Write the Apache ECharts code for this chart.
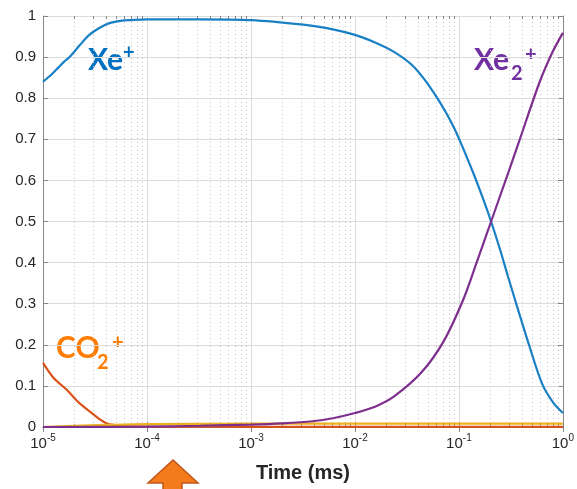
<!DOCTYPE html>
<html><head><meta charset="utf-8">
<script src="https://cdn.jsdelivr.net/npm/echarts@6/dist/echarts.min.js"></script>
<style>html,body{margin:0;padding:0;background:#fff}#c{width:577px;height:489px}</style>
</head><body><div id="c"></div>
<script>
// Time in ms (log axis) and fractions
const xeTime = [1e-5, 1.2e-5, 1.41e-5, 1.6e-5, 1.8e-5, 2.24e-5, 2.79e-5, 3.55e-5, 4.3e-5, 5.6e-5, 7e-5, 1e-4, 3.2e-4, 1e-3, 3.2e-3, 5.2e-3, 0.01, 0.0158, 0.024, 0.037, 0.0575, 0.089, 0.1375, 0.171, 0.204, 0.25, 0.295, 0.366, 0.476, 0.632, 0.804, 1];
const xeVal  = [0.84, 0.857, 0.875, 0.889, 0.9, 0.928, 0.954, 0.972, 0.982, 0.988, 0.99, 0.992, 0.992, 0.99, 0.979, 0.971, 0.954, 0.935, 0.912, 0.876, 0.813, 0.73, 0.618, 0.555, 0.5, 0.43, 0.368, 0.29, 0.197, 0.105, 0.06, 0.034];

const co2Time = [1e-5, 1.26e-5, 1.7e-5, 2.24e-5, 2.95e-5, 3.55e-5, 4.27e-5, 6.3e-5, 1e-4, 1e-3, 1];
const co2Val  = [0.156, 0.12, 0.09, 0.058, 0.034, 0.018, 0.007, 0.002, 0.001, 0.0005, 0.0005];

const yelTime = [1e-5, 2e-5, 4e-5, 1e-4, 1e-3, 1];
const yelVal  = [0.0, 0.003, 0.005, 0.007, 0.008, 0.008];

const xe2Time = [1e-5, 1e-4, 3.2e-4, 1e-3, 2e-3, 3.9e-3, 6.3e-3, 0.01, 0.0158, 0.024, 0.0437, 0.0715, 0.111, 0.148, 0.204, 0.282, 0.383, 0.593, 0.787, 1];
const xe2Val  = [0.0, 0.001, 0.003, 0.006, 0.009, 0.014, 0.022, 0.034, 0.05, 0.075, 0.133, 0.209, 0.312, 0.40, 0.5, 0.601, 0.698, 0.837, 0.91, 0.959];

const yTicks = [0, 0.1, 0.2, 0.3, 0.4, 0.5, 0.6, 0.7, 0.8, 0.9, 1];
const decades = [1e-5, 1e-4, 1e-3, 1e-2, 1e-1];
const minorMult = [2, 3, 4, 5, 6, 7, 8, 9];
const xAxisTitle = 'Time (ms)';

const zip = (a, b) => a.map((t, i) => [t, b[i]]);
const minorTicks = [];
decades.forEach(d => minorMult.forEach(m => minorTicks.push([m * d])));
const axisGray = '#858585';
const txt = '#262626';

const chart = echarts.init(document.getElementById('c'), null, {renderer: 'canvas'});
const xLabelFmt = v => '{b|10}{s|' + Math.round(Math.log10(v)) + '}';
const lineCommon = {type: 'line', smooth: 0.3, showSymbol: false, z: 3};

chart.setOption({
  animation: false,
  backgroundColor: '#fff',
  grid: {left: 43, right: 4, top: 16, bottom: 62},
  xAxis: [{
    type: 'log', logBase: 10, min: 1e-5, max: 1, position: 'bottom',
    axisLine: {show: true, lineStyle: {color: axisGray, width: 1}},
    axisTick: {show: true, inside: true, length: 5, lineStyle: {color: axisGray}},
    minorTick: {show: false}, minorSplitLine: {show: false},
    splitLine: {show: true, lineStyle: {color: '#dcdcdc', width: 1}},
    axisLabel: {
      formatter: xLabelFmt, margin: 6, color: txt, fontFamily: 'Liberation Sans',
      rich: {
        b: {fontSize: 15, color: txt, fontFamily: 'Liberation Sans', lineHeight: 18, verticalAlign: 'bottom'},
        s: {fontSize: 10, color: txt, fontFamily: 'Liberation Sans', lineHeight: 10, verticalAlign: 'top'}
      }
    },
    name: xAxisTitle, nameLocation: 'middle', nameGap: 36,
    nameTextStyle: {fontSize: 20, fontWeight: 'bold', color: txt, fontFamily: 'Liberation Sans'}
  }, {
    type: 'log', logBase: 10, min: 1e-5, max: 1, position: 'top',
    axisLine: {show: true, lineStyle: {color: axisGray, width: 1}},
    axisTick: {show: true, inside: true, length: 5, lineStyle: {color: axisGray}},
    splitLine: {show: false}, axisLabel: {show: false}
  }],
  yAxis: [{
    type: 'value', min: 0, max: 1, interval: 0.1, position: 'left',
    axisLine: {show: true, lineStyle: {color: axisGray, width: 1}},
    axisTick: {show: true, inside: true, length: 5, lineStyle: {color: axisGray}},
    splitLine: {show: true, lineStyle: {color: '#dcdcdc', width: 1}},
    axisLabel: {
      margin: 7, color: txt, fontSize: 15, fontFamily: 'Liberation Sans',
      formatter: v => { const t = yTicks.find(k => Math.abs(k - v) < 1e-9); return t === undefined ? '' : String(t); }
    }
  }, {
    type: 'value', min: 0, max: 1, interval: 0.1, position: 'right',
    axisLine: {show: true, lineStyle: {color: axisGray, width: 1}},
    axisTick: {show: true, inside: true, length: 5, lineStyle: {color: axisGray}},
    splitLine: {show: false}, axisLabel: {show: false}
  }],
  series: [
    {type: 'custom', name: 'minor', data: minorTicks, z: 1, silent: true,
     encode: {x: 0},
     renderItem: (params, api) => {
       const x = Math.round(api.coord([api.value(0), 0])[0]) + 0.5;
       const yb = api.coord([1e-5, 0])[1];
       const yt = api.coord([1e-5, 1])[1];
       return {type: 'group', children: [
         {type: 'line', shape: {x1: x, y1: yb, x2: x, y2: yt}, style: {stroke: '#c4c4c4', lineWidth: 1, lineDash: [1, 3]}},
         {type: 'line', shape: {x1: x, y1: yb, x2: x, y2: yb - 3}, style: {stroke: axisGray, lineWidth: 1}},
         {type: 'line', shape: {x1: x, y1: yt, x2: x, y2: yt + 3}, style: {stroke: axisGray, lineWidth: 1}}
       ]};
     }},
    Object.assign({}, lineCommon, {name: 'Xe+', data: zip(xeTime, xeVal),
     lineStyle: {color: '#1a80c6', width: 2.2}, itemStyle: {color: '#1a80c6'}}),
    Object.assign({}, lineCommon, {name: 'CO2+', data: zip(co2Time, co2Val),
     lineStyle: {color: '#d95319', width: 2.2}, itemStyle: {color: '#d95319'}}),
    Object.assign({}, lineCommon, {name: 'other', data: zip(yelTime, yelVal),
     lineStyle: {color: '#edb120', width: 2.2}, itemStyle: {color: '#edb120'}}),
    Object.assign({}, lineCommon, {name: 'Xe2+', data: zip(xe2Time, xe2Val),
     lineStyle: {color: '#7e2f8e', width: 2.2}, itemStyle: {color: '#7e2f8e'}})
  ],
  graphic: [
    {type: 'text', x: 88, y: 60, style: {text: 'Xe', font: 'bold 30px Lato', fill: '#0070c0', verticalAlign: 'middle'}},
    {type: 'text', x: 123, y: 53, style: {text: '+', font: 'bold 20px Lato', fill: '#0070c0', verticalAlign: 'middle'}},
    {type: 'text', x: 474, y: 60, style: {text: 'Xe', font: 'bold 30px Lato', fill: '#7030a0', verticalAlign: 'middle'}},
    {type: 'text', x: 511, y: 74, style: {text: '2', font: 'bold 20px Lato', fill: '#7030a0', verticalAlign: 'middle'}},
    {type: 'text', x: 525, y: 55, style: {text: '+', font: 'bold 20px Lato', fill: '#7030a0', verticalAlign: 'middle'}},
    {type: 'text', x: 56, y: 348, style: {text: 'CO', font: 'bold 30px Lato', fill: '#ff7c00', verticalAlign: 'middle'}},
    {type: 'text', x: 97, y: 363, style: {text: '2', font: 'bold 20px Lato', fill: '#ff7c00', verticalAlign: 'middle'}},
    {type: 'text', x: 112, y: 343, style: {text: '+', font: 'bold 20px Lato', fill: '#ff7c00', verticalAlign: 'middle'}},
    {type: 'polygon', shape: {points: [[173, 460], [148, 483], [163, 483], [163, 495], [182, 495], [182, 483], [198, 483]]},
     style: {fill: '#f47a1a', stroke: '#c0561a', lineWidth: 1.5}}
  ]
});
</script></body></html>
